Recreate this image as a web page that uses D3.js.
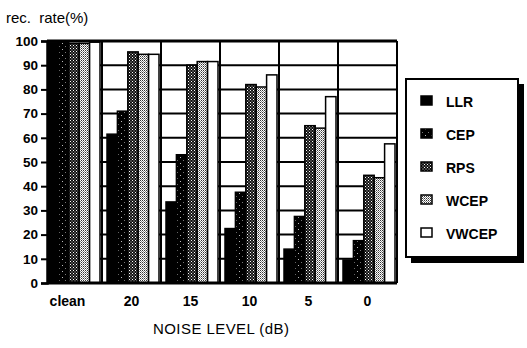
<!DOCTYPE html>
<html>
<head>
    <meta charset="utf-8">
    <title>rec. rate vs noise level</title>
    <style>
        body { margin: 0; background: #fff; }
        svg { display: block; }
        text { font-family: "Liberation Sans", Arial, sans-serif; fill: #000; }
        .tick text { font-size: 13.5px; font-weight: bold; }
        .grid line { stroke: #000; stroke-width: 2px; }
    </style>
</head>
<body>
    <div class="viz"></div>
    <script src="https://cdnjs.cloudflare.com/ajax/libs/d3/7.8.5/d3.min.js"></script>
    <script>
        // data
        var noiseLevels = ["clean", "20", "15", "10", "5", "0"];
        var methods = ["LLR", "CEP", "RPS", "WCEP", "VWCEP"];
        var llr   = [99.5, 61.5, 33.5, 22.5, 14, 9.5];
        var cep   = [99.5, 71, 53, 37.5, 27.5, 17.5];
        var rps   = [99, 95.5, 90, 82, 65, 44.5];
        var wcep  = [99, 94.5, 91.5, 81, 64, 43.5];
        var vwcep = [99.5, 94.5, 91.5, 86, 77, 57.5];
        var yTicks = [0, 10, 20, 30, 40, 50, 60, 70, 80, 90, 100];

        var series = [llr, cep, rps, wcep, vwcep];

        var width = 527, height = 348;

        var svg = d3.select('.viz').append('svg')
            .attr('width', width)
            .attr('height', height);

        // fill patterns to mimic the halftone shading
        var defs = svg.append('defs');

        var pCep = defs.append('pattern').attr('id', 'p-cep')
            .attr('width', 6).attr('height', 6).attr('patternUnits', 'userSpaceOnUse');
        pCep.append('rect').attr('width', 6).attr('height', 6).attr('fill', '#000');
        pCep.append('rect').attr('x', 1).attr('y', 1).attr('width', 1).attr('height', 1).attr('fill', '#bbb');
        pCep.append('rect').attr('x', 4).attr('y', 4).attr('width', 1).attr('height', 1).attr('fill', '#777');

        var pRps = defs.append('pattern').attr('id', 'p-rps')
            .attr('width', 3).attr('height', 3).attr('patternUnits', 'userSpaceOnUse');
        pRps.append('rect').attr('width', 3).attr('height', 3).attr('fill', '#111');
        pRps.append('rect').attr('x', 0).attr('y', 0).attr('width', 1).attr('height', 1).attr('fill', '#fff');
        pRps.append('rect').attr('x', 1.5).attr('y', 1.5).attr('width', 1).attr('height', 1).attr('fill', '#ddd');

        var pWcep = defs.append('pattern').attr('id', 'p-wcep')
            .attr('width', 2).attr('height', 2).attr('patternUnits', 'userSpaceOnUse');
        pWcep.append('rect').attr('width', 2).attr('height', 2).attr('fill', '#fff');
        pWcep.append('rect').attr('x', 0).attr('y', 0).attr('width', 1).attr('height', 1).attr('fill', '#333');
        pWcep.append('rect').attr('x', 1).attr('y', 1).attr('width', 1).attr('height', 1).attr('fill', '#888');

        var fills = ['#000', 'url(#p-cep)', 'url(#p-rps)', 'url(#p-wcep)', '#fff'];

        var plotLeft = 47, plotRight = 397;

        var y = d3.scaleLinear().domain([0, 100]).range([283, 41]);

        var x0 = d3.scaleBand().domain(noiseLevels).range([43, plotRight]).padding(0);
        var x1 = d3.scaleBand().domain(methods).range([5, 57]).padding(0);

        // horizontal grid lines
        svg.append('g').attr('class', 'grid')
            .selectAll('line')
            .data(yTicks)
            .enter().append('line')
            .attr('x1', plotLeft).attr('x2', plotRight)
            .attr('y1', function (d) { return y(d); })
            .attr('y2', function (d) { return y(d); })
            .style('stroke-width', function (d) { return d === 100 ? 3 : 2; });

        // group separators + right frame
        svg.append('g').attr('class', 'grid')
            .selectAll('line')
            .data(noiseLevels.slice(1).concat(['end']))
            .enter().append('line')
            .attr('x1', function (d) { return d === 'end' ? plotRight : x0(d); })
            .attr('x2', function (d) { return d === 'end' ? plotRight : x0(d); })
            .attr('y1', y(100)).attr('y2', y(0));

        // bars
        var groups = svg.append('g')
            .selectAll('g')
            .data(noiseLevels)
            .enter().append('g')
            .attr('transform', function (d) { return 'translate(' + x0(d) + ',0)'; });

        groups.selectAll('rect')
            .data(function (d, gi) {
                return methods.map(function (m, mi) { return {m: m, i: mi, v: series[mi][gi]}; });
            })
            .enter().append('rect')
            .attr('x', function (d) { return x1(d.m); })
            .attr('width', x1.bandwidth())
            .attr('y', function (d) { return y(d.v); })
            .attr('height', function (d) { return y(0) - y(d.v); })
            .attr('fill', function (d) { return fills[d.i]; })
            .attr('stroke', '#000')
            .attr('stroke-width', 1.5);

        // y axis
        var yAxis = svg.append('g')
            .attr('transform', 'translate(' + plotLeft + ',0)')
            .call(d3.axisLeft(y).tickValues(yTicks).tickSize(6).tickPadding(3));
        yAxis.select('.domain').attr('stroke-width', 2.5);
        yAxis.selectAll('.tick line').attr('stroke-width', 2);

        // baseline
        svg.append('line')
            .attr('x1', plotLeft).attr('x2', plotRight)
            .attr('y1', y(0)).attr('y2', y(0))
            .attr('stroke', '#000').attr('stroke-width', 3);

        // x labels
        svg.append('g')
            .selectAll('text')
            .data(noiseLevels)
            .enter().append('text')
            .attr('x', function (d, i) { return x0(d) + x0.bandwidth() / 2 + (i === 0 ? -5 : 0); })
            .attr('y', 306)
            .attr('text-anchor', 'middle')
            .style('font-size', '14px')
            .style('font-weight', 'bold')
            .text(function (d) { return d; });

        svg.append('text')
            .attr('x', 221).attr('y', 334)
            .attr('text-anchor', 'middle')
            .style('font-size', '15px')
            .attr('textLength', 136)
            .text('NOISE LEVEL  (dB)');

        svg.append('text')
            .attr('x', 6).attr('y', 23)
            .style('font-size', '15px')
            .style('word-spacing', '4px')
            .text('rec. rate(%)');

        // legend with drop shadow
        var lg = svg.append('g').attr('transform', 'translate(406,79)');
        lg.append('rect').attr('x', 5).attr('y', 5).attr('width', 113).attr('height', 179).attr('fill', '#000');
        lg.append('rect').attr('width', 112).attr('height', 178)
            .attr('fill', '#fff').attr('stroke', '#000').attr('stroke-width', 2);

        var items = lg.selectAll('.item')
            .data(methods)
            .enter().append('g')
            .attr('class', 'item')
            .attr('transform', function (d, i) { return 'translate(0,' + (22 + i * 33) + ')'; });

        items.append('rect')
            .attr('x', 15).attr('y', -5)
            .attr('width', 11).attr('height', 9)
            .attr('fill', function (d, i) { return fills[i]; })
            .attr('stroke', '#000').attr('stroke-width', 1.5);

        items.append('text')
            .attr('x', 40).attr('y', 5.5)
            .style('font-size', '14px')
            .style('font-weight', 'bold')
            .text(function (d) { return d; });
    </script>
</body>
</html>
